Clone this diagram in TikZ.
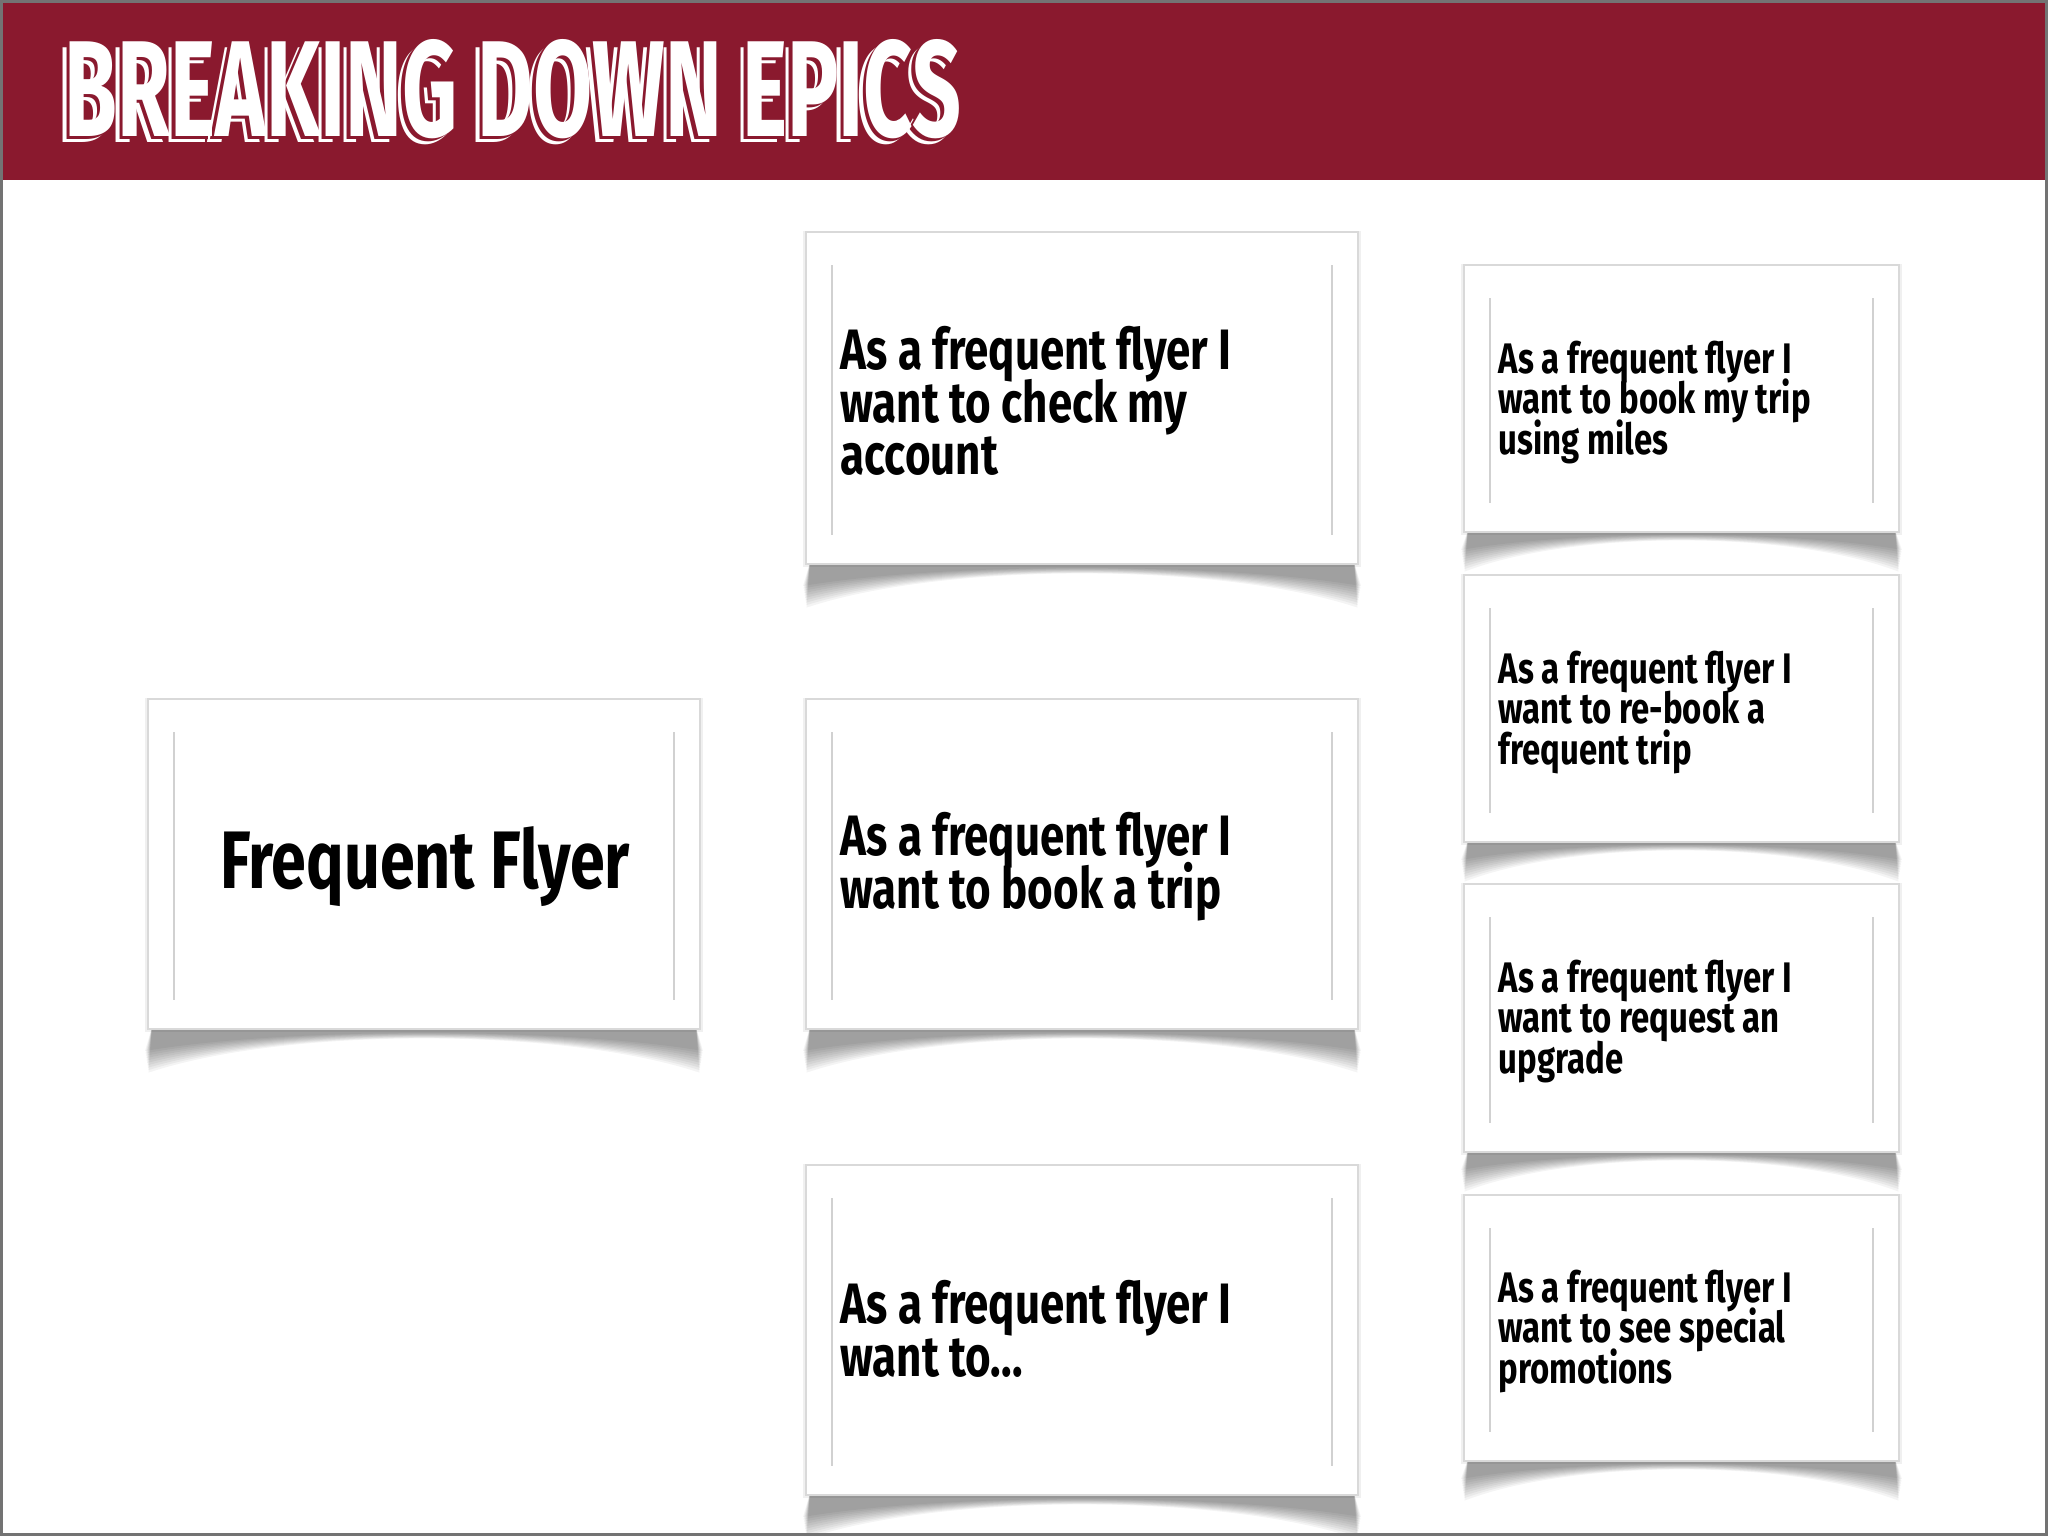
\documentclass[tikz,border=0pt]{standalone}
\usepackage{fontspec}
\setmainfont{Fira Sans}
\newfontfamily\cardfont[FakeStretch=0.77]{Fira Sans}
\newfontfamily\titlefont{Fira Sans}
\usetikzlibrary{fit}
\definecolor{barred}{RGB}{138,25,46}
\newcommand\bigcardfont{\cardfont\bfseries\fontsize{16.2pt}{14.8pt}\selectfont\lineskiplimit=-100pt\relax}
\newcommand\smallcardfont{\cardfont\bfseries\fontsize{12.15pt}{11.6pt}\selectfont\lineskiplimit=-100pt\relax}
\newcommand\epicfont{\cardfont\bfseries\fontsize{23.2pt}{26pt}\selectfont}
\newcommand\titleword{\resizebox{8.96cm}{0.97cm}{\titlefont\bfseries BREAKING DOWN EPICS}}
\newcommand\titlecombo{\rlap{\hspace*{-0.07cm}\raisebox{-0.06cm}{\color{white}\titleword}}\rlap{\hspace*{-0.035cm}\raisebox{-0.03cm}{\color{barred}\titleword}}{\color{white}\titleword}}
\tikzset{
  cardbox/.style={fill=white, draw=black!15, line width=0.015cm, inner sep=0pt, outer sep=0pt},
  innerline/.style={draw=black!18, line width=0.02cm},
  shadowfill/.style={fill=black, opacity=0.045},
  sideshadow/.style={draw=black, opacity=0.06, line width=0.06cm},
  bigtext/.style={anchor=north west, inner sep=0pt, align=left, font=\bigcardfont},
  smalltext/.style={anchor=north west, inner sep=0pt, align=left, font=\smallcardfont},
  titletext/.style={anchor=north west, inner sep=0pt},
}
% name L T R B depth
\newcommand\mkcard[6]{%
  \pgfmathsetmacro\cw{#4-#2}%
  \foreach \k in {0,...,9}{%
    \pgfmathsetmacro\dd{#6-12+2.4*\k}%
    \fill[shadowfill] (#2+4,#5-2) -- (#2-3+0.4*\k,#5+\dd) .. controls (#2+0.25*\cw,#5-2) and (#4-0.25*\cw,#5-2) .. (#4+3-0.4*\k,#5+\dd) -- (#4-4,#5-2) -- cycle;
  }%
  \draw[sideshadow] (#2,#3+2) rectangle (#4,#5);
  \node[cardbox, fit={(#2,#3) (#4,#5)}] (#1) {};
  \draw[innerline] (#2+26,#3+33) -- (#2+26,#5-29);
  \draw[innerline] (#4-26,#3+33) -- (#4-26,#5-29);
}
\begin{document}
\begin{tikzpicture}[x=0.01cm, y=-0.01cm]
\useasboundingbox (0,0) rectangle (2048,1536);
\fill[white] (0,0) rectangle (2048,1536);
% title bar
\fill[barred] (0,0) rectangle (2048,180);
\node[titletext] (title) at (64,39) {\titlecombo};
% cards
\mkcard{epic}{148}{699}{700}{1029}{34}
\mkcard{b1}{806}{232}{1358}{564}{34}
\mkcard{b2}{806}{699}{1358}{1029}{34}
\mkcard{b3}{806}{1165}{1358}{1495}{34}
\mkcard{r1}{1464}{265}{1899}{532}{30}
\mkcard{r2}{1464}{575}{1899}{842}{30}
\mkcard{r3}{1464}{884}{1899}{1152}{30}
\mkcard{r4}{1464}{1195}{1899}{1461}{30}
% texts
\node[anchor=base, inner sep=0pt, font=\epicfont] (epictext) at (425,888) {Frequent Flyer};
\node[bigtext] (b1text) at (840,326) {As a frequent flyer I\\want to check my\\account};
\node[bigtext] (b2text) at (840,812) {As a frequent flyer I\\want to book a trip};
\node[bigtext] (b3text) at (840,1280) {As a frequent flyer I\\want to...};
\node[smalltext] (r1text) at (1498,340) {As a frequent flyer I\\want to book my trip\\using miles};
\node[smalltext] (r2text) at (1498,650) {As a frequent flyer I\\want to re-book a\\frequent trip};
\node[smalltext] (r3text) at (1498,959) {As a frequent flyer I\\want to request an\\upgrade};
\node[smalltext] (r4text) at (1498,1269) {As a frequent flyer I\\want to see special\\promotions};
% frame
\draw[black!55, line width=0.03cm] (1.5,1.5) rectangle (2046.5,1534.5);
\end{tikzpicture}
\end{document}
